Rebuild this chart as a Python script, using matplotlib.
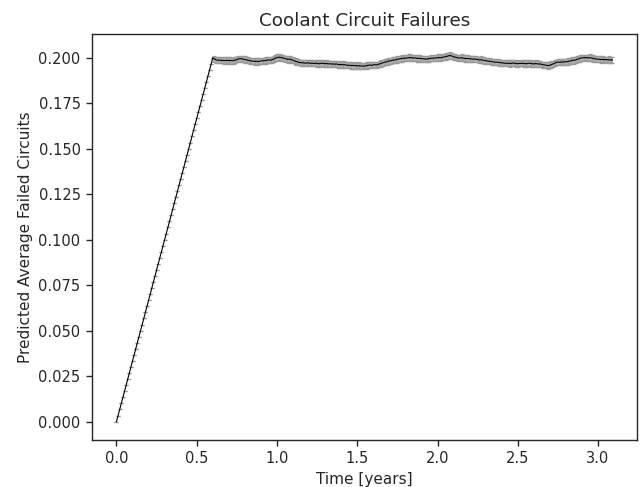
import numpy as np
import matplotlib
matplotlib.use('Agg')
import matplotlib.pyplot as plt

STEP = 0.01  # years between samples

# linear ramp while the circuits are being brought online (0 -> 0.60 yr)
ramp = [0.0000, 0.0033, 0.0067, 0.0100, 0.0133, 0.0167, 0.0200, 0.0233, 0.0267, 0.0300,
        0.0333, 0.0367, 0.0400, 0.0433, 0.0467, 0.0500, 0.0533, 0.0567, 0.0600, 0.0633,
        0.0667, 0.0700, 0.0733, 0.0767, 0.0800, 0.0833, 0.0867, 0.0900, 0.0933, 0.0967,
        0.1000, 0.1033, 0.1067, 0.1100, 0.1133, 0.1167, 0.1200, 0.1233, 0.1267, 0.1300,
        0.1333, 0.1367, 0.1400, 0.1433, 0.1467, 0.1500, 0.1533, 0.1567, 0.1600, 0.1633,
        0.1667, 0.1700, 0.1733, 0.1767, 0.1800, 0.1833, 0.1867, 0.1900, 0.1933, 0.1967,
        0.2000]

# steady state, 0.61 -> 3.09 yr
steady = [0.1993, 0.1988, 0.1986, 0.1987, 0.1985, 0.1986, 0.1984, 0.1985, 0.1986, 0.1984,
          0.1985, 0.1983, 0.1985, 0.1987, 0.1990, 0.1993, 0.1995, 0.1994, 0.1992, 0.1990,
          0.1988, 0.1986, 0.1984, 0.1982, 0.1981, 0.1980, 0.1981, 0.1979, 0.1980, 0.1982,
          0.1984, 0.1983, 0.1985, 0.1987, 0.1988, 0.1986, 0.1989, 0.1993, 0.1997, 0.2001,
          0.2003, 0.2002, 0.2000, 0.1998, 0.1995, 0.1993, 0.1991, 0.1992, 0.1989, 0.1986,
          0.1982, 0.1979, 0.1976, 0.1974, 0.1972, 0.1973, 0.1971, 0.1970, 0.1972, 0.1971,
          0.1969, 0.1970, 0.1968, 0.1970, 0.1969, 0.1967, 0.1968, 0.1970, 0.1969, 0.1967,
          0.1968, 0.1966, 0.1967, 0.1965, 0.1966, 0.1964, 0.1966, 0.1963, 0.1962, 0.1963,
          0.1961, 0.1962, 0.1960, 0.1958, 0.1959, 0.1957, 0.1958, 0.1956, 0.1957, 0.1955,
          0.1956, 0.1954, 0.1955, 0.1953, 0.1955, 0.1957, 0.1959, 0.1960, 0.1958, 0.1961,
          0.1962, 0.1960, 0.1963, 0.1966, 0.1969, 0.1972, 0.1975, 0.1977, 0.1980, 0.1982,
          0.1984, 0.1986, 0.1987, 0.1989, 0.1991, 0.1993, 0.1995, 0.1996, 0.1998, 0.1997,
          0.1999, 0.2000, 0.2001, 0.2000, 0.1998, 0.1999, 0.1997, 0.1996, 0.1997, 0.1995,
          0.1994, 0.1993, 0.1992, 0.1994, 0.1995, 0.1997, 0.1998, 0.1997, 0.1999, 0.2000,
          0.2001, 0.2000, 0.2002, 0.2004, 0.2006, 0.2008, 0.2011, 0.2012, 0.2009, 0.2005,
          0.2003, 0.2001, 0.1999, 0.1998, 0.2000, 0.1998, 0.1996, 0.1995, 0.1996, 0.1994,
          0.1993, 0.1992, 0.1993, 0.1991, 0.1990, 0.1988, 0.1989, 0.1987, 0.1985, 0.1984,
          0.1982, 0.1981, 0.1980, 0.1978, 0.1977, 0.1975, 0.1976, 0.1974, 0.1973, 0.1972,
          0.1971, 0.1970, 0.1969, 0.1970, 0.1968, 0.1969, 0.1971, 0.1970, 0.1968, 0.1967,
          0.1969, 0.1968, 0.1970, 0.1968, 0.1967, 0.1968, 0.1970, 0.1969, 0.1967, 0.1966,
          0.1968, 0.1967, 0.1965, 0.1966, 0.1963, 0.1961, 0.1960, 0.1958, 0.1957, 0.1959,
          0.1962, 0.1966, 0.1970, 0.1974, 0.1976, 0.1975, 0.1977, 0.1976, 0.1978, 0.1977,
          0.1979, 0.1981, 0.1983, 0.1985, 0.1986, 0.1988, 0.1991, 0.1994, 0.1997, 0.1999,
          0.2000, 0.2001, 0.2000, 0.1999, 0.2000, 0.1998, 0.1996, 0.1994, 0.1993, 0.1992,
          0.1991, 0.1990, 0.1991, 0.1989, 0.1990, 0.1988, 0.1989, 0.1987, 0.1988]

# standard error of the mean: none on the ramp, small once failures are random
ramp_err = [0.0] * len(ramp)
steady_err = [0.0017, 0.0018, 0.0017, 0.0017, 0.0016, 0.0017, 0.0018, 0.0017, 0.0017, 0.0018,
              0.0017, 0.0017, 0.0018, 0.0017, 0.0016, 0.0017, 0.0017, 0.0018, 0.0017, 0.0017,
              0.0018, 0.0017, 0.0017, 0.0016, 0.0017, 0.0018, 0.0017, 0.0017, 0.0017, 0.0018,
              0.0017, 0.0016, 0.0017, 0.0017, 0.0018, 0.0017, 0.0017, 0.0018, 0.0017, 0.0017,
              0.0017, 0.0018, 0.0017, 0.0017, 0.0016, 0.0017, 0.0018, 0.0017, 0.0017, 0.0017,
              0.0018, 0.0017, 0.0017, 0.0016, 0.0017, 0.0017, 0.0018, 0.0017, 0.0017, 0.0018,
              0.0017, 0.0017, 0.0016, 0.0017, 0.0018, 0.0017, 0.0017, 0.0017, 0.0018, 0.0017,
              0.0017, 0.0016, 0.0017, 0.0017, 0.0018, 0.0017, 0.0017, 0.0018, 0.0017, 0.0017,
              0.0017, 0.0018, 0.0017, 0.0017, 0.0016, 0.0017, 0.0018, 0.0017, 0.0017, 0.0017,
              0.0018, 0.0017, 0.0017, 0.0016, 0.0017, 0.0017, 0.0018, 0.0017, 0.0017, 0.0018,
              0.0017, 0.0017, 0.0016, 0.0017, 0.0018, 0.0017, 0.0017, 0.0017, 0.0018, 0.0017,
              0.0017, 0.0016, 0.0017, 0.0017, 0.0018, 0.0017, 0.0017, 0.0018, 0.0017, 0.0017,
              0.0017, 0.0018, 0.0017, 0.0017, 0.0016, 0.0017, 0.0018, 0.0017, 0.0017, 0.0017,
              0.0018, 0.0017, 0.0017, 0.0016, 0.0017, 0.0017, 0.0018, 0.0017, 0.0017, 0.0018,
              0.0017, 0.0017, 0.0016, 0.0017, 0.0018, 0.0017, 0.0017, 0.0017, 0.0018, 0.0017,
              0.0017, 0.0016, 0.0017, 0.0017, 0.0018, 0.0017, 0.0017, 0.0018, 0.0017, 0.0017,
              0.0017, 0.0018, 0.0017, 0.0017, 0.0016, 0.0017, 0.0018, 0.0017, 0.0017, 0.0017,
              0.0018, 0.0017, 0.0017, 0.0016, 0.0017, 0.0017, 0.0018, 0.0017, 0.0017, 0.0018,
              0.0017, 0.0017, 0.0016, 0.0017, 0.0018, 0.0017, 0.0017, 0.0017, 0.0018, 0.0017,
              0.0017, 0.0016, 0.0017, 0.0017, 0.0018, 0.0017, 0.0017, 0.0018, 0.0017, 0.0017,
              0.0017, 0.0018, 0.0017, 0.0017, 0.0016, 0.0017, 0.0018, 0.0017, 0.0017, 0.0017,
              0.0018, 0.0017, 0.0017, 0.0016, 0.0017, 0.0017, 0.0018, 0.0017, 0.0017, 0.0018,
              0.0017, 0.0017, 0.0016, 0.0017, 0.0018, 0.0017, 0.0017, 0.0017, 0.0018, 0.0017,
              0.0017, 0.0016, 0.0017, 0.0017, 0.0018, 0.0017, 0.0017, 0.0018, 0.0017, 0.0017,
              0.0017, 0.0018, 0.0017, 0.0017, 0.0016, 0.0017, 0.0018, 0.0017, 0.0017]

failures = np.array(ramp + steady)
errors = np.array(ramp_err + steady_err)
time = np.arange(len(failures)) * STEP

DARK = '0.15'
plt.rcParams['font.family'] = ['DejaVu Sans']
plt.rcParams['font.size'] = 11
plt.rcParams['text.color'] = DARK
plt.rcParams['axes.labelcolor'] = DARK
plt.rcParams['xtick.color'] = DARK
plt.rcParams['ytick.color'] = DARK

fig = plt.figure(figsize=(6.43, 4.87), dpi=100)
ax = fig.add_axes([0.1426, 0.0965, 0.8485, 0.8337])

ax.errorbar(time, failures, yerr=errors, color='black', lw=0.8,
            ecolor='0.6', elinewidth=1.1, capsize=1.6, capthick=0.9)

ax.set_title('Coolant Circuit Failures', fontsize=13.2)
ax.set_xlabel('Time [years]', fontsize=11)
ax.set_ylabel('Predicted Average Failed Circuits', fontsize=11)
ax.tick_params(labelsize=10.5, length=4.5, width=1.0)
for sp in ax.spines.values():
    sp.set_color(DARK)
    sp.set_linewidth(1.0)
ax.set_yticks(np.arange(0, 0.2001, 0.025))

fig.savefig('out.png', dpi=100)
